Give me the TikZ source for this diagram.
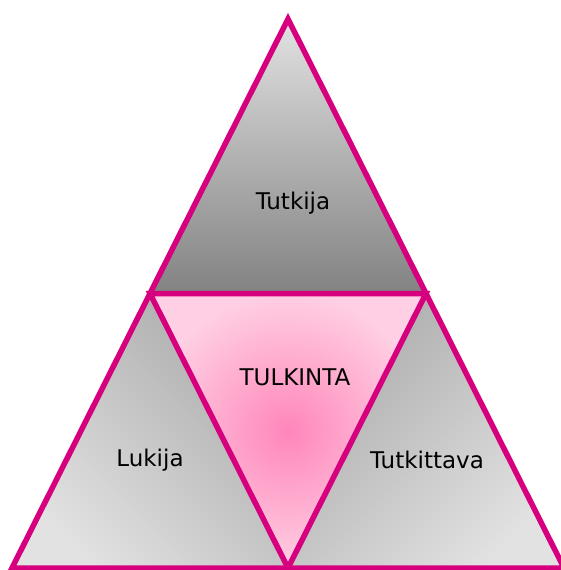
\documentclass[tikz,border=0pt]{standalone}
\usepackage{fontspec}
\setmainfont{DejaVu Sans}
\definecolor{edgepink}{HTML}{D6007F}
\definecolor{pinkin}{HTML}{FF86BA}
\definecolor{pinkout}{HTML}{FFCFE3}
\definecolor{glight}{HTML}{E2E2E2}
\definecolor{gdark}{HTML}{828282}
\definecolor{gmid}{HTML}{AAAAAA}
\begin{document}
\begin{tikzpicture}[x=1pt,y=-1pt,
  edge/.style={draw=edgepink,line width=5.5pt,line join=miter},
  lbl/.style={font=\fontsize{23}{27}\selectfont,text=black}]
\useasboundingbox (0,0) rectangle (561,570);
\coordinate (A) at (288,19);
\coordinate (BL) at (12,568);
\coordinate (BR) at (564,568);
\coordinate (ML) at (150,293.5);
\coordinate (MR) at (426,293.5);
\coordinate (MB) at (288,568);
% top triangle
\shade[top color=glight,bottom color=gdark] (A) -- (ML) -- (MR) -- cycle;
% left triangle
\shade[top color=gmid,bottom color=glight,shading angle=-45] (ML) -- (BL) -- (MB) -- cycle;
% right triangle
\shade[top color=gmid,bottom color=glight,shading angle=45] (MR) -- (MB) -- (BR) -- cycle;
% centre
\shade[inner color=pinkin,outer color=pinkout] (ML) -- (MR) -- (MB) -- cycle;
% outlines
\draw[edge] (A) -- (BR) -- (BL) -- cycle;
\draw[edge] (ML) -- (MR) -- (MB) -- cycle;
% labels
\node[lbl] (tutkija) at (293,203) {Tutkija};
\node[lbl] (tulkinta) at (295,377) {TULKINTA};
\node[lbl] (lukija) at (150,460) {Lukija};
\node[lbl] (tutkittava) at (427,460) {Tutkittava};
\end{tikzpicture}
\end{document}
